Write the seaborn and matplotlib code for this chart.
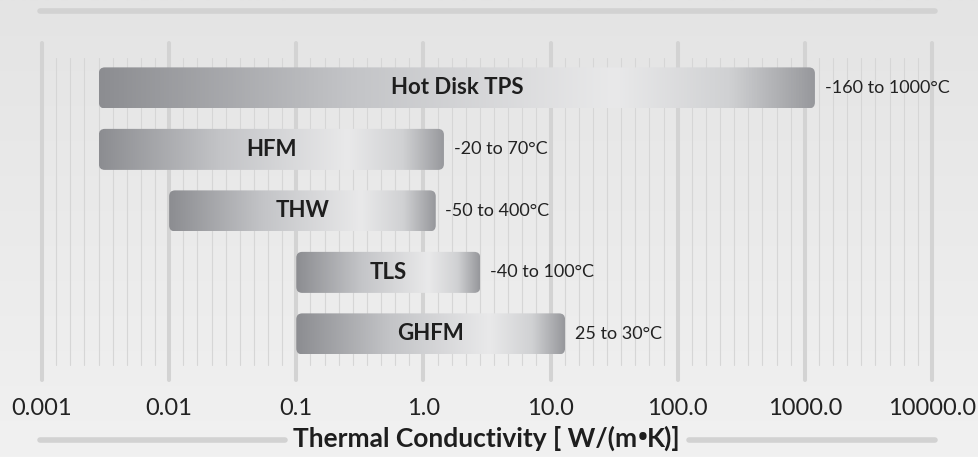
import numpy as np
import matplotlib.pyplot as plt
import seaborn as sns
from matplotlib.colors import LinearSegmentedColormap
from matplotlib.patches import FancyBboxPatch
from matplotlib.lines import Line2D

# data
methods = ["Hot Disk TPS", "HFM", "THW", "TLS", "GHFM"]
k_low = [0.0028, 0.0028, 0.01, 0.1, 0.1]
k_high = [1200.0, 1.45, 1.25, 2.8, 13.0]
temp_ranges = ["-160 to 1000°C", "-20 to 70°C", "-50 to 400°C", "-40 to 100°C", "25 to 30°C"]
tick_values = [0.001, 0.01, 0.1, 1.0, 10.0, 100.0, 1000.0, 10000.0]
tick_labels = ["0.001", "0.01", "0.1", "1.0", "10.0", "100.0", "1000.0", "10000.0"]

sns.set_theme(style="white")
plt.rcParams['font.family'] = ['Lato', 'DejaVu Sans']

W, H = 979, 457
fig = plt.figure(figsize=(W / 100, H / 100), dpi=100)

# soft grey background
bg_cmap = LinearSegmentedColormap.from_list("bg", ["#f1f1f1", "#e4e4e4"])
bg = fig.add_axes([0, 0, 1, 1], zorder=0)
bg.imshow(np.linspace(0, 1, 256).reshape(-1, 1), cmap=bg_cmap, aspect='auto',
          extent=[0, 1, 0, 1], origin='lower')
bg.axis('off')

ax = fig.add_axes([42 / W, 1 - 380 / H, 890 / W, 337 / H], zorder=1)
ax.patch.set_alpha(0)

lo = np.log10(k_low)
hi = np.log10(k_high)
ypos = np.arange(len(methods))
xmin, xmax = np.log10(tick_values[0]), np.log10(tick_values[-1])
ylims = (4.75, -0.73)

# grid lines: thick per decade, 8 thin evenly spaced ones in between
for v in tick_values:
    ax.axvline(np.log10(v), color='#d3d3d3', lw=2.9, solid_capstyle='round', zorder=1, clip_on=False)
for d in np.log10(tick_values[:-1]):
    for j in range(1, 9):
        ax.axvline(d + j / 9, ymin=0.045, ymax=0.955, color='#d6d6d6', lw=0.8, zorder=1)

# bars with a grey metallic gradient
bar_cmap = LinearSegmentedColormap.from_list(
    "bar", [(0, "#8c8d91"), (0.35, "#c3c4c7"), (0.72, "#e9e9ea"), (0.88, "#d0d1d3"), (1, "#97989c")])
grad = np.linspace(0, 1, 512).reshape(1, -1)
px_x = 890 / (xmax - xmin)
px_y = 337 / abs(ylims[0] - ylims[1])

bars = ax.barh(ypos, hi - lo, left=lo, height=0.667, color='none', edgecolor='none', linewidth=0)
for rect in bars:
    x0, y0 = rect.get_xy()
    w, h = rect.get_width(), rect.get_height()
    shape = FancyBboxPatch((x0, y0), w, h, boxstyle=f"round,pad=0,rounding_size={6 / px_x}",
                           mutation_aspect=px_x / px_y, fc='none', ec='none', lw=0, zorder=2)
    ax.add_patch(shape)
    im = ax.imshow(grad, cmap=bar_cmap, extent=[x0, x0 + w, y0, y0 + h], aspect='auto',
                   zorder=2, interpolation='bilinear')
    im.set_clip_path(shape)

for i, name in enumerate(methods):
    ax.text((lo[i] + hi[i]) / 2, ypos[i], name, ha='center', va='center', fontsize=16,
            fontweight='bold', color='#1e1e1e', zorder=3)
    ax.annotate(temp_ranges[i], xy=(hi[i], ypos[i]), xytext=(7, 0), textcoords='offset points',
                ha='left', va='center', fontsize=13, color='#222222', zorder=3)

ax.set_xlim(xmin, xmax)
ax.set_ylim(*ylims)
ax.set_xticks(np.log10(tick_values))
ax.set_xticklabels(tick_labels, fontsize=17, color='#222222')
ax.tick_params(axis='x', length=0, pad=13)
ax.set_yticks([])
sns.despine(ax=ax, left=True, bottom=True)

# decorative rules and axis title (bullet from a font with a smaller glyph)
fig.add_artist(Line2D([40 / W, 935 / W], [1 - 11 / H] * 2, lw=4, color='#d2d2d2', solid_capstyle='round'))
title_parts = ["Thermal Conductivity [ W/(m", "•", "K)]"]
part_fonts = [['Lato', 'DejaVu Sans'], ['Open Sans', 'DejaVu Sans'], ['Lato', 'DejaVu Sans']]
ty = 1 - 438 / H
pieces = []
for txt, fam in zip(title_parts, part_fonts):
    pieces.append(fig.text(0, ty, txt, ha='left', va='center', fontsize=19, fontweight='bold',
                           color='#1e1e1e', family=fam))
fig.canvas.draw()
widths = [p.get_window_extent().width for p in pieces]
x = 487 - sum(widths) / 2
start = x
for p, wd in zip(pieces, widths):
    p.set_x(x / W)
    x += wd
end = x
yl = 1 - 440 / H
fig.add_artist(Line2D([40 / W, (start - 8) / W], [yl, yl], lw=4, color='#d2d2d2', solid_capstyle='round'))
fig.add_artist(Line2D([(end + 8) / W, 935 / W], [yl, yl], lw=4, color='#d2d2d2', solid_capstyle='round'))

fig.savefig('out.png', dpi=100)
